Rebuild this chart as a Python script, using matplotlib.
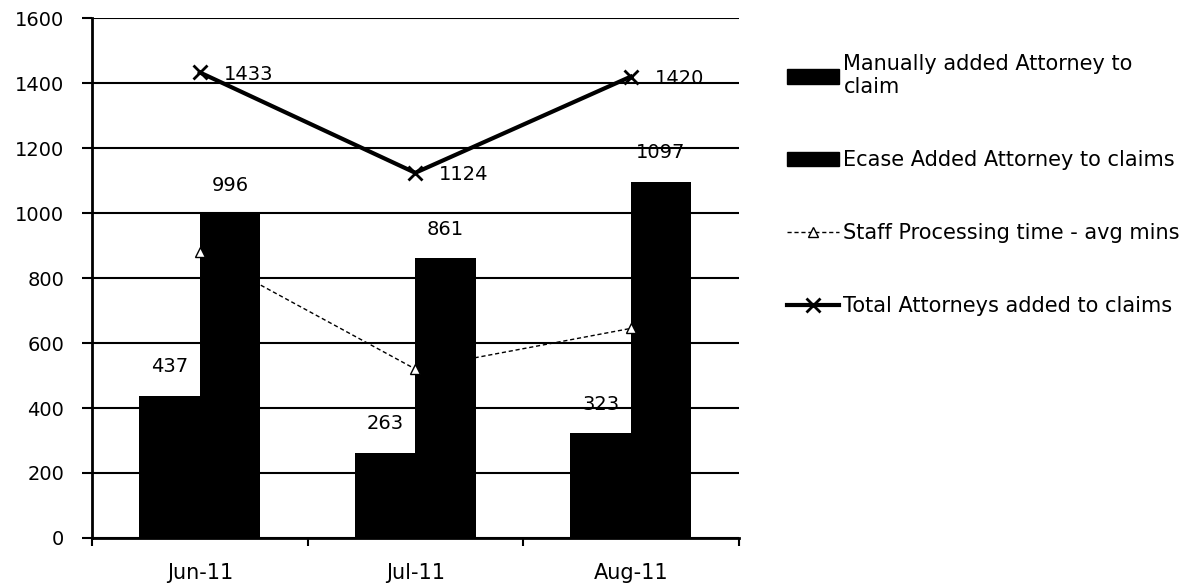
import matplotlib.pyplot as plt
import numpy as np
from matplotlib.patches import Patch
from matplotlib.lines import Line2D

plt.rcParams['font.family'] = ['DejaVu Sans']

months = ['Jun-11', 'Jul-11', 'Aug-11']
manual = [437, 263, 323]
ecase = [996, 861, 1097]
staff_time = [880, 520, 645]
total = [1433, 1124, 1420]

fig = plt.figure(figsize=(11.95, 5.86), dpi=100)
ax = fig.add_axes([0.077, 0.082, 0.541, 0.887])

x = np.arange(len(months))
w = 0.28
fs = 14

# bars
ax.bar(x - w/2, manual, w, color='black', zorder=3)
ax.bar(x + w/2, ecase, w, color='black', zorder=3)

# lines
ax.plot(x, staff_time, color='black', lw=1, ls=(0, (3, 2)), marker='^',
        markersize=7, markerfacecolor='white', markeredgecolor='black', zorder=4)
ax.plot(x, total, color='black', lw=3, marker='x', markersize=10,
        markeredgewidth=2, zorder=5)

# value labels
for i in range(len(months)):
    ax.text(x[i] - w/2, manual[i] + 60, str(manual[i]), ha='center', va='bottom', fontsize=fs)
    ax.text(x[i] + w/2, ecase[i] + 60, str(ecase[i]), ha='center', va='bottom', fontsize=fs)
    ax.text(x[i] + 0.11, total[i] - 5, str(total[i]), ha='left', va='center', fontsize=fs)

ax.set_xlim(-0.5, 2.5)
ax.set_ylim(0, 1600)
ax.set_yticks(np.arange(0, 1601, 200))
ax.set_xticks([-0.5, 0.5, 1.5, 2.5])
ax.set_xticklabels([])
ax.set_xticks(x, minor=True)
ax.set_xticklabels(months, minor=True, fontsize=15)
ax.tick_params(axis='x', which='minor', length=0, pad=18)
ax.tick_params(axis='x', which='major', length=6, width=1.5, direction='out')
ax.tick_params(axis='y', length=7, width=1.5, direction='out', labelsize=fs, pad=13)

ax.grid(axis='y', color='black', lw=1.5, zorder=0)
for s in ['top', 'right']:
    ax.spines[s].set_visible(False)
ax.spines['left'].set_linewidth(2)
ax.spines['bottom'].set_linewidth(2)

handles = [
    Patch(facecolor='black', edgecolor='black'),
    Patch(facecolor='black', edgecolor='black'),
    Line2D([0], [0], color='black', lw=1, ls=(0, (3, 2)), marker='^', markersize=7,
           markerfacecolor='white', markeredgecolor='black'),
    Line2D([0], [0], color='black', lw=3, marker='x', markersize=10, markeredgewidth=2),
]
labels = ['Manually added Attorney to\nclaim', 'Ecase Added Attorney to claims',
          'Staff Processing time - avg mins', 'Total Attorneys added to claims']
fig.legend(handles, labels, loc='upper left', bbox_to_anchor=(0.643, 0.94),
           frameon=False, fontsize=15, labelspacing=2.55, handlelength=2.5,
           handletextpad=0.2)

fig.savefig('out.png', dpi=100)
